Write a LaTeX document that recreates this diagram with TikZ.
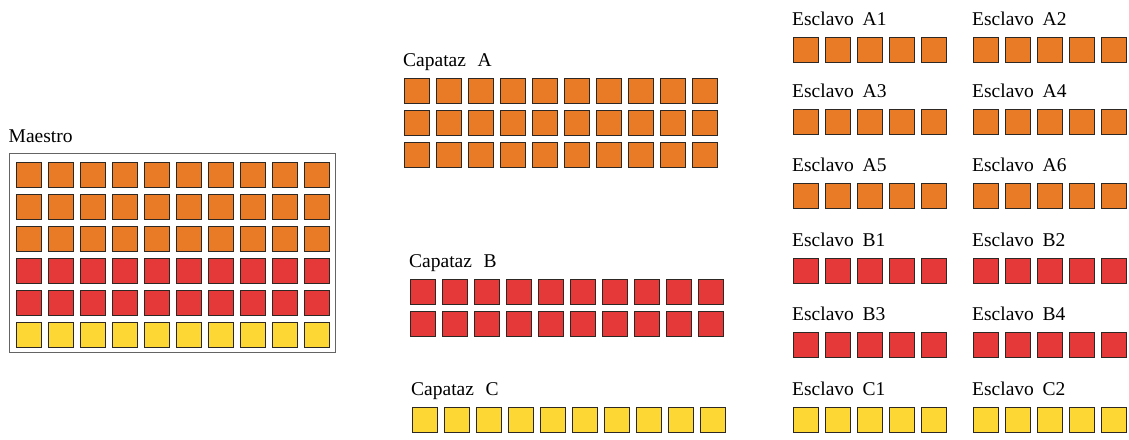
\documentclass[tikz,border=0pt]{standalone}
\usepackage{fontspec}
\setmainfont{Liberation Serif}
\definecolor{cor}{RGB}{233,123,38}
\definecolor{cred}{RGB}{229,56,56}
\definecolor{cyel}{RGB}{253,216,53}
\definecolor{sqline}{RGB}{45,40,35}
\definecolor{frameline}{RGB}{100,100,100}
\begin{document}
\begin{tikzpicture}[x=1pt,y=-1pt,
  sq/.style={draw=sqline,line width=1pt,minimum size=25pt,inner sep=0pt,anchor=north west},
  lbl/.style={anchor=base west,inner sep=0pt,font=\fontsize{19.5}{22}\selectfont},
  framebox/.style={draw=frameline,line width=1pt}]
\useasboundingbox (0,0) rectangle (1129,439);
% Maestro
\node[lbl] (maestro) at (8.5,142) {Maestro};
\draw[framebox] (9,153) rectangle (335,352);
\foreach \j/\c in {0/cor,1/cor,2/cor,3/cred,4/cred,5/cyel}
  \foreach \i in {0,...,9}
    \node[sq,fill=\c] (m-\j-\i) at ({15.5+32*\i},{161.5+32*\j}) {};
% Capataz A
\node[lbl] (capA) at (403,66) {Capataz\hspace{0.6em}A};
\foreach \j in {0,1,2}
  \foreach \i in {0,...,9}
    \node[sq,fill=cor] (ca-\j-\i) at ({403.5+32*\i},{77.5+32*\j}) {};
% Capataz B
\node[lbl] (capB) at (409,267) {Capataz\hspace{0.6em}B};
\foreach \j in {0,1}
  \foreach \i in {0,...,9}
    \node[sq,fill=cred] (cb-\j-\i) at ({409.5+32*\i},{278.5+32*\j}) {};
% Capataz C
\node[lbl] (capC) at (411,395) {Capataz\hspace{0.6em}C};
\foreach \i in {0,...,9}
  \node[sq,fill=cyel] (cc-\i) at ({411.5+32*\i},406.5) {};
% Esclavos
\foreach \n/\lx/\ty/\c in {A1/792/36/cor,A2/972/36/cor,A3/792/108.5/cor,A4/972/108.5/cor,
  A5/792/182.5/cor,A6/972/182.5/cor,B1/792/257/cred,B2/972/257/cred,
  B3/792/331.5/cred,B4/972/331.5/cred,C1/792/406/cyel,C2/972/406/cyel}{
  \node[lbl] (e\n) at (\lx,\ty-11) {Esclavo\hspace{0.45em}\n};
  \foreach \i in {0,...,4}
    \node[sq,fill=\c] (e\n-\i) at ({\lx+0.5+32*\i},\ty+0.5) {};
}
\end{tikzpicture}
\end{document}
